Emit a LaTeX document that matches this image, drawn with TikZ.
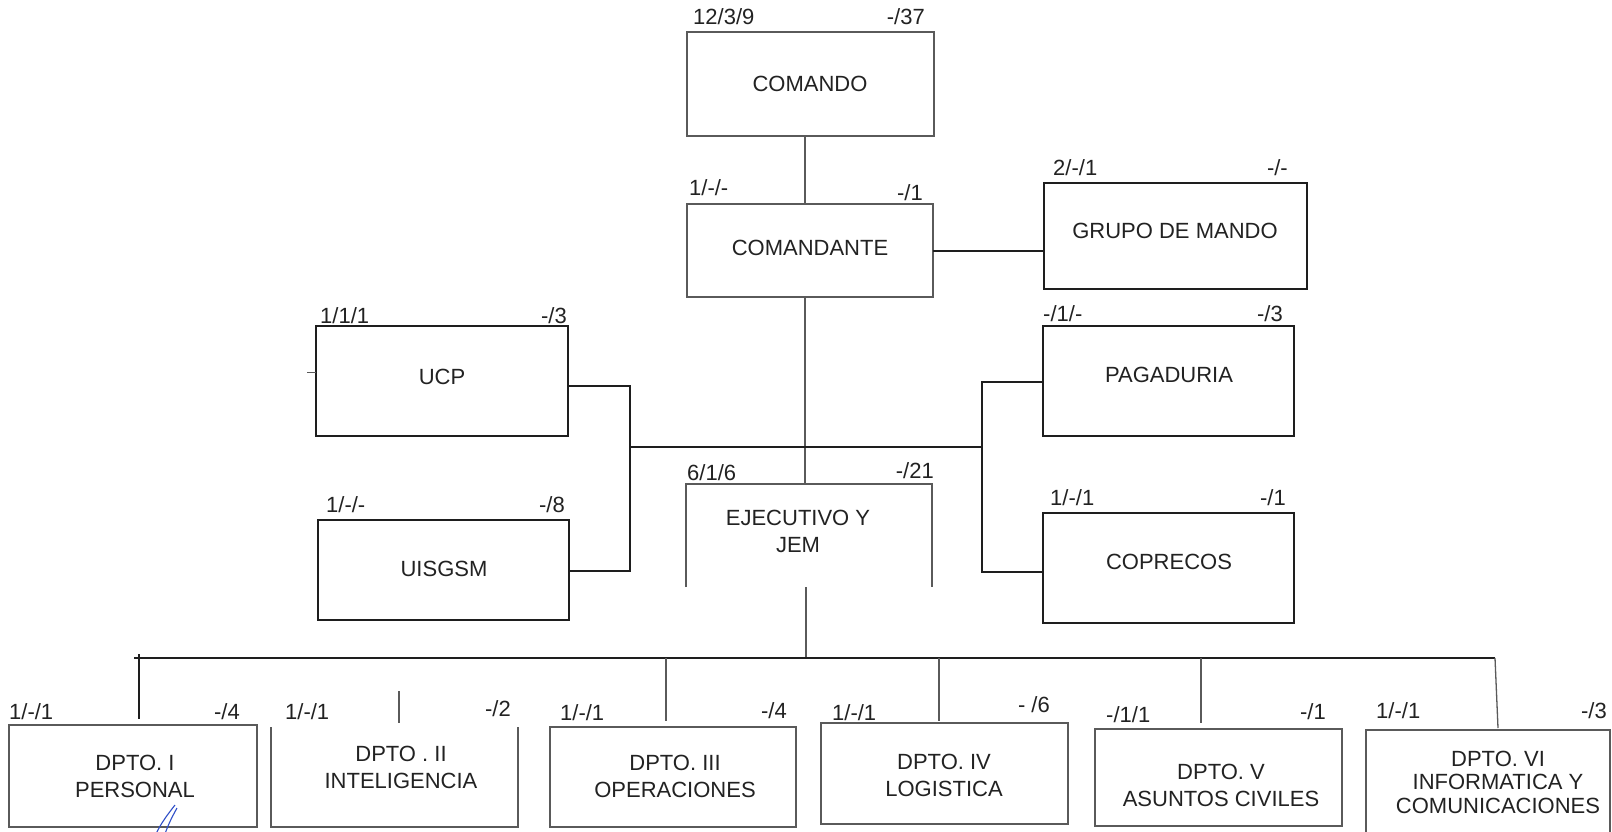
\documentclass[tikz,border=0pt]{standalone}
\usepackage{fontspec}
\setmainfont{Liberation Sans}
\definecolor{thinc}{HTML}{5A5A5A}
\definecolor{thickc}{HTML}{1E1E1E}
\definecolor{txtc}{HTML}{222222}
\definecolor{penblue}{HTML}{2F4FC8}
\begin{document}
\begin{tikzpicture}[x=1pt,y=-1pt,
  thinline/.style={draw=thinc,line width=1.3pt},
  thickline/.style={draw=thickc,line width=2pt},
  thinbox/.style={thinline,rectangle,inner sep=0pt,outer sep=0pt},
  thickbox/.style={thickline,rectangle,inner sep=0pt,outer sep=0pt},
  openbox/.style={rectangle,inner sep=0pt,outer sep=0pt},
  txt/.style={text=txtc,font=\fontsize{22}{27}\selectfont,align=center,inner sep=0pt},
  txts/.style={text=txtc,font=\fontsize{22}{23.5}\selectfont,align=center,inner sep=0pt},
  lbl/.style={text=txtc,font=\fontsize{22}{26}\selectfont,inner sep=0pt,anchor=west},
  lbr/.style={text=txtc,font=\fontsize{22}{26}\selectfont,inner sep=0pt,anchor=east}]
\clip (0,0) rectangle (1612,831);
\fill[white] (0,0) rectangle (1612,831);

% boxes
\node[thinbox,minimum width=247pt,minimum height=104pt] (comando) at (810.5,84) {};
\node[thinbox,minimum width=246pt,minimum height=93pt] (comandante) at (810,250.5) {};
\node[thickbox,minimum width=263pt,minimum height=106pt] (grupo) at (1175.5,236) {};
\node[thickbox,minimum width=251pt,minimum height=110pt] (pagaduria) at (1168.5,381) {};
\node[thickbox,minimum width=251pt,minimum height=110pt] (coprecos) at (1168.5,568) {};
\node[thickbox,minimum width=252pt,minimum height=110pt] (ucp) at (442,381) {};
\node[thickbox,minimum width=251pt,minimum height=100pt] (uisgsm) at (443.5,570) {};
\node[openbox,minimum width=246pt,minimum height=103pt] (ejec) at (809,535.5) {};
\draw[thinline] (ejec.south west) -- (ejec.north west) -- (ejec.north east) -- (ejec.south east);
\node[thinbox,minimum width=248pt,minimum height=102pt] (d1) at (133,776) {};
\node[openbox,minimum width=247pt,minimum height=100pt] (d2) at (394.5,777) {};
\draw[thinline] (d2.north west) -- (d2.south west) -- (d2.south east) -- (d2.north east);
\node[thinbox,minimum width=246pt,minimum height=100pt] (d3) at (673,777) {};
\node[thinbox,minimum width=247pt,minimum height=101pt] (d4) at (944.5,773.5) {};
\node[thinbox,minimum width=247pt,minimum height=97pt] (d5) at (1218.5,777.5) {};
\node[thinbox,minimum width=244pt,minimum height=130pt] (d6) at (1488,795) {};

% box texts
\node[txt] (tcomando) at (810,84) {COMANDO};
\node[txt] (tcomandante) at (810,248) {COMANDANTE};
\node[txt] (tgrupo) at (1175,231) {GRUPO DE MANDO};
\node[txt] (tpag) at (1169,375) {PAGADURIA};
\node[txt] (tcop) at (1169,562) {COPRECOS};
\node[txt] (tucp) at (442,377) {UCP};
\node[txt] (tuis) at (444,569) {UISGSM};
\node[txt] (tejec) at (798,531) {EJECUTIVO Y\\JEM};
\node[txt] (td1) at (135,776) {DPTO. I\\PERSONAL};
\node[txt] (td2) at (401,767) {DPTO . II\\INTELIGENCIA};
\node[txt] (td3) at (675,776) {DPTO. III\\OPERACIONES};
\node[txt] (td4) at (944,775) {DPTO. IV\\LOGISTICA};
\node[txt] (td5) at (1221,785) {DPTO. V\\ASUNTOS CIVILES};
\node[txts] (td6) at (1498,782) {DPTO. VI\\INFORMATICA Y\\COMUNICACIONES};

% strength labels
\node[lbl] (l1) at (693,17) {12/3/9};   \node[lbr] (r1) at (925,17) {-/37};
\node[lbl] (l2) at (689,188) {1/-/-};   \node[lbr] (r2) at (923,193) {-/1};
\node[lbl] (l3) at (1053,168) {2/-/1};  \node[lbr] (r3) at (1288,168) {-/-};
\node[lbl] (l4) at (1043,314) {-/1/-};  \node[lbr] (r4) at (1283,314) {-/3};
\node[lbl] (l5) at (1050,498) {1/-/1};  \node[lbr] (r5) at (1286,498) {-/1};
\node[lbl] (l6) at (320,316) {1/1/1};   \node[lbr] (r6) at (567,316) {-/3};
\node[lbl] (l7) at (326,505) {1/-/-};   \node[lbr] (r7) at (565,505) {-/8};
\node[lbl] (l8) at (687,473) {6/1/6};   \node[lbr] (r8) at (934,471) {-/21};
\node[lbl] (l9) at (9,712) {1/-/1};     \node[lbr] (r9) at (240,712) {-/4};
\node[lbl] (l10) at (285,712) {1/-/1};  \node[lbr] (r10) at (511,709) {-/2};
\node[lbl] (l11) at (560,713) {1/-/1};  \node[lbr] (r11) at (787,711) {-/4};
\node[lbl] (l12) at (832,713) {1/-/1};  \node[lbr] (r12) at (1050,705) {- /6};
\node[lbl] (l13) at (1106,715) {-/1/1}; \node[lbr] (r13) at (1326,712) {-/1};
\node[lbl] (l14) at (1376,711) {1/-/1}; \node[lbr] (r14) at (1607,711) {-/3};

% coordinates
\coordinate (mx) at (805,0);
\coordinate (lj) at (630,447);
\coordinate (rj) at (982,447);
\coordinate (ucpy) at (0,386);
\coordinate (uisy) at (0,571);
\coordinate (pagy) at (0,382);
\coordinate (copy) at (0,572);
\coordinate (busL) at (134,658);
\coordinate (busR) at (1495,658);
\coordinate (d1top) at (139,654);
\coordinate (d2top) at (399,691);

% connectors
\draw[thinline] (comando.south -| mx) -- (comandante.north -| mx);
\draw[thinline] (comandante.south -| mx) -- (ejec.north -| mx);
\draw[thickline] (comandante.east) -- (grupo.west |- comandante.east);
\draw[thickline] (ucp.east |- ucpy) -| (lj) |- (uisgsm.east |- uisy);
\draw[thickline] (pagaduria.west |- pagy) -| (rj) |- (coprecos.west |- copy);
\draw[thickline] (lj) -- (rj);
\draw[thinline] ([xshift=-3pt]ejec.south) -- ([xshift=-3pt]ejec.south |- busL);
\draw[thickline] (busL) -- (busR);
\draw[thickline] (d1top) -- ([yshift=6pt]d1.north -| d1top);
\draw[thinline] (d2top) -- ([yshift=4pt]d2.north -| d2top);
\draw[thinline] (busL -| 666,0) -- ([yshift=6pt]d3.north -| 666,0);
\draw[thinline] (busL -| 939,0) -- ([yshift=2pt]d4.north -| 939,0);
\draw[thinline] (busL -| 1201,0) -- ([yshift=6pt]d5.north -| 1201,0);
\draw[thinline] (busR) -- ([yshift=2pt]d6.north -| 1498,0);

% scan marks
\draw[thinc,line width=1pt] (307,372) -- (ucp.west |- 0,372);
\draw[penblue,line width=1.1pt] (175,805) .. controls (168,814) and (161,823) .. (156,834);
\draw[penblue,line width=1.1pt] (177,808) .. controls (172,817) and (168,825) .. (165,834);
\end{tikzpicture}
\end{document}
